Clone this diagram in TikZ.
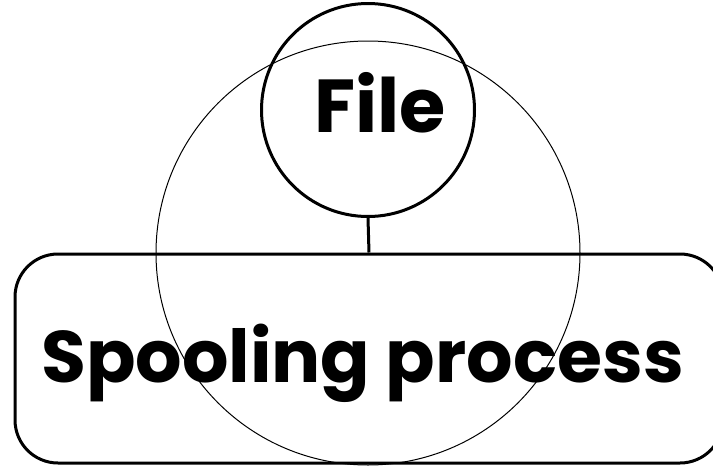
\documentclass[tikz,border=0pt]{standalone}
\usepackage{fontspec}
\setmainfont{Poppins}
\begin{document}
\begin{tikzpicture}[x=1pt,y=-1pt,
  thickline/.style={line width=3pt},
  thinline/.style={line width=1pt},
  lbl/.style={inner sep=0pt, anchor=base}]
\useasboundingbox (0,0) rectangle (713,467);
\node[circle, draw, thickline, minimum size=213pt, inner sep=0pt] (file) at (368,110) {};
\node[rectangle, draw, thickline, rounded corners=43pt, minimum width=708pt, minimum height=209pt, inner sep=0pt] (spool) at (369,358.5) {};
\node[circle, draw, thinline, minimum size=424pt, inner sep=0pt] (big) at (368,253) {};
\draw[thickline] (file.south) -- (spool.north);
\node[lbl, font=\bfseries\fontsize{75}{85}\selectfont] (filetxt) at (380,132) {File};
\node[lbl, font=\bfseries\fontsize{73}{83}\selectfont] (spooltxt) at (362.5,382) {Spooling process};
\end{tikzpicture}
\end{document}
